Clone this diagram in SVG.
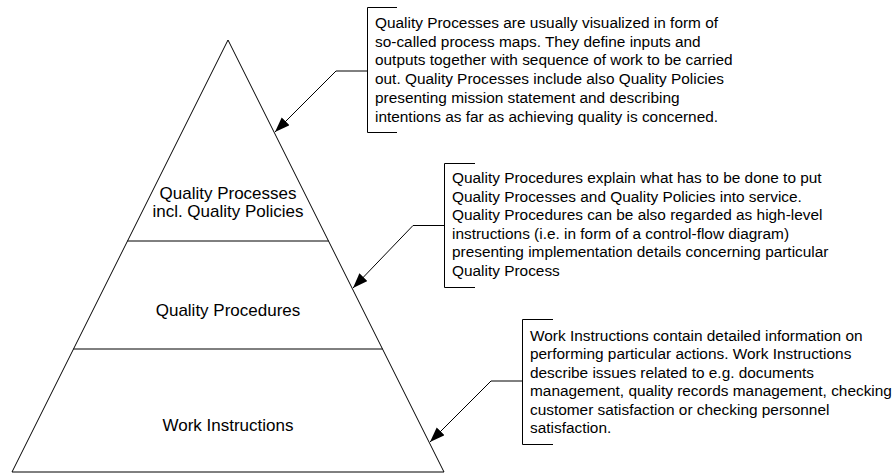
<svg xmlns="http://www.w3.org/2000/svg" width="894" height="474" viewBox="0 0 894 474">
<defs>
<marker id="arrow" markerUnits="userSpaceOnUse" markerWidth="16" markerHeight="12" refX="15" refY="5.5" orient="auto">
<path d="M0,0 L15,5.5 L0,11 z" fill="#000"/>
</marker>
<style>
.ln{fill:none;stroke:#000;stroke-width:1}
.lbl{font-family:"Liberation Sans",Arial,sans-serif;font-size:17px;fill:#000;text-anchor:middle}
.note{font-family:"Liberation Sans",Arial,sans-serif;font-size:15.4px;fill:#000}
</style>
</defs>
<rect width="894" height="474" fill="#fff"/>
<g id="pyramid">
<path class="ln" d="M228,40 L444,472 L12,472 Z"/>
</g>
<g id="level-processes">
<line class="ln" x1="127.5" y1="241" x2="328.5" y2="241"/>
<text class="lbl" x="228" y="199">Quality Processes</text>
<text class="lbl" x="228" y="217">incl. Quality Policies</text>
</g>
<g id="level-procedures">
<line class="ln" x1="73.5" y1="349" x2="382.5" y2="349"/>
<text class="lbl" x="228" y="316">Quality Procedures</text>
</g>
<g id="level-instructions">
<text class="lbl" x="228" y="431">Work Instructions</text>
</g>
<g id="note-processes">
<path class="ln" d="M397,7.5 H367.5 V132.5 H397"/>
<text class="note">
<tspan x="375" y="28">Quality Processes are usually visualized in form of</tspan>
<tspan x="375" y="46.7">so-called process maps. They define inputs and</tspan>
<tspan x="375" y="65.4">outputs together with sequence of work to be carried</tspan>
<tspan x="375" y="84.1">out. Quality Processes include also Quality Policies</tspan>
<tspan x="375" y="102.8">presenting mission statement and describing</tspan>
<tspan x="375" y="121.5">intentions as far as achieving quality is concerned.</tspan>
</text>
</g>
<g id="note-procedures">
<path class="ln" d="M475,163.5 H444.5 V287.5 H475"/>
<text class="note">
<tspan x="452" y="183">Quality Procedures explain what has to be done to put</tspan>
<tspan x="452" y="201.5">Quality Processes and Quality Policies into service.</tspan>
<tspan x="452" y="220">Quality Procedures can be also regarded as high-level</tspan>
<tspan x="452" y="238.5">instructions (i.e. in form of a control-flow diagram)</tspan>
<tspan x="452" y="257">presenting implementation details concerning particular</tspan>
<tspan x="452" y="275.5">Quality Process</tspan>
</text>
</g>
<g id="note-instructions">
<path class="ln" d="M553,319.5 H522.5 V444.5 H553"/>
<text class="note">
<tspan x="530" y="340.5">Work Instructions contain detailed information on</tspan>
<tspan x="530" y="359">performing particular actions. Work Instructions</tspan>
<tspan x="530" y="377.5">describe issues related to e.g. documents</tspan>
<tspan x="530" y="396">management, quality records management, checking</tspan>
<tspan x="530" y="414.5">customer satisfaction or checking personnel</tspan>
<tspan x="530" y="433">satisfaction.</tspan>
</text>
</g>
<g id="connectors">
<path class="ln" d="M367.5,71 H336 L275,132" marker-end="url(#arrow)"/>
<path class="ln" d="M444.5,225.5 H413 L353,288" marker-end="url(#arrow)"/>
<path class="ln" d="M522.5,381 H491 L430,442" marker-end="url(#arrow)"/>
</g>
</svg>
